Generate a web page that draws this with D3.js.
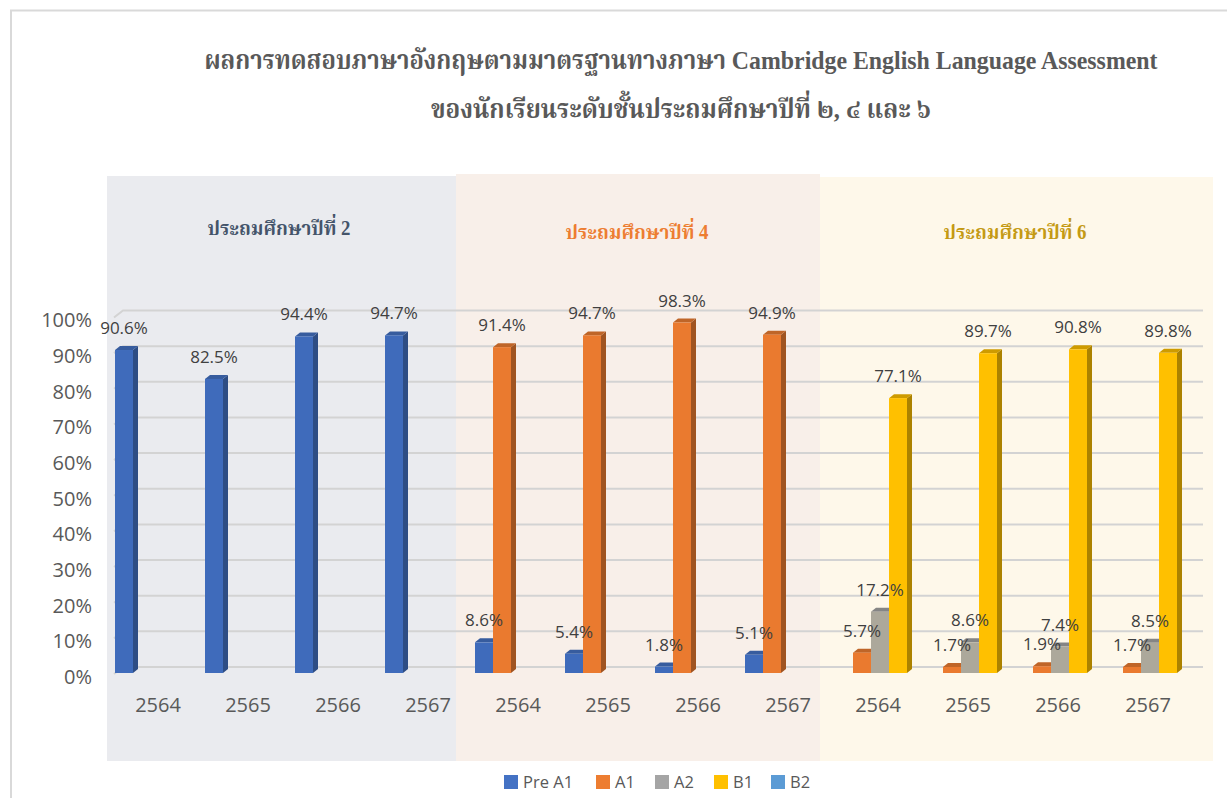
<!DOCTYPE html>
<html>
<head>
<meta charset="utf-8">
<script src="https://cdn.jsdelivr.net/npm/d3@7"></script>
<style>
  body { margin: 0; background: #fff; }
  text { font-family: "Open Sans", "Noto Sans", sans-serif; }
  text.thai { font-family: "Liberation Serif", "TH Sarabun New", "Angsana New", "Noto Serif Thai", serif; font-weight: bold; }
</style>
</head>
<body>
<svg width="1227" height="798"></svg>
<script>
// data
var grades = ["ประถมศึกษาปีที่ 2", "ประถมศึกษาปีที่ 4", "ประถมศึกษาปีที่ 6"];
var years = ["2564", "2565", "2566", "2567"];
var seriesNames = ["Pre A1", "A1", "A2", "B1", "B2"];
var preA1 = [90.6, 82.5, 94.4, 94.7, 8.6, 5.4, 1.8, 5.1, null, null, null, null];
var a1    = [null, null, null, null, 91.4, 94.7, 98.3, 94.9, 5.7, 1.7, 1.9, 1.7];
var a2    = [null, null, null, null, null, null, null, null, 17.2, 8.6, 7.4, 8.5];
var b1    = [null, null, null, null, null, null, null, null, 77.1, 89.7, 90.8, 89.8];
var b2    = [null, null, null, null, null, null, null, null, null, null, null, null];
var yTicks = [0, 10, 20, 30, 40, 50, 60, 70, 80, 90, 100];

var colors = ["#4472c4", "#ed7d31", "#a5a5a5", "#ffc000", "#5b9bd5"];
var fronts = ["#3f6bbb", "#ea7a2f", "#aca89b", "#ffc000", "#5b9bd5"];
var gradeColors = ["#44546a", "#ed7d31", "#c49a14"];
var panelColors = ["#eaebef", "#f8efe9", "#fef8ea"];
var allSeries = [preA1, a1, a2, b1, b2];

var svg = d3.select("svg");

// card border
svg.append("path")
  .attr("d", "M11,798 L11,10.5 L1227,10.5")
  .attr("fill", "none").attr("stroke", "#d9d9d9").attr("stroke-width", 2);

// title
var title = svg.append("g").attr("fill", "#595959").attr("text-anchor", "middle");
title.append("text").attr("class", "thai").attr("x", 681).attr("y", 69).attr("font-size", 26)
  .attr("textLength", 953).attr("lengthAdjust", "spacingAndGlyphs")
  .text("ผลการทดสอบภาษาอังกฤษตามมาตรฐานทางภาษา Cambridge English Language Assessment");
title.append("text").attr("class", "thai").attr("x", 681).attr("y", 118).attr("font-size", 26)
  .attr("textLength", 500).attr("lengthAdjust", "spacingAndGlyphs")
  .text("ของนักเรียนระดับชั้นประถมศึกษาปีที่ ๒, ๔ และ ๖");

var keys = [];
grades.forEach(function(g, gi) { years.forEach(function(yr) { keys.push(gi + "-" + yr); }); });

var x = d3.scaleBand().domain(keys).range([113, 1193]).padding(0);
var xs = d3.scaleBand().domain(seriesNames).range([2, 92]).padding(0);
var y = d3.scaleLinear().domain([0, 100]).range([673, 316.5]);

// panels
var panels = [[107, 456, 176], [456, 820, 174], [820, 1213, 177]];
panels.forEach(function(p, i) {
  svg.append("rect").attr("x", p[0]).attr("y", p[2]).attr("width", p[1] - p[0])
    .attr("height", 761 - p[2]).attr("fill", panelColors[i]);
  svg.append("text").attr("class", "thai")
    .attr("x", [279, 637, 1015][i]).attr("y", [235, 239, 239][i])
    .attr("text-anchor", "middle").attr("font-size", 20)
    .attr("textLength", 143).attr("lengthAdjust", "spacingAndGlyphs")
    .attr("fill", gradeColors[i]).text(grades[i]);
});

// gridlines on the back wall
var grid = svg.append("g").attr("stroke", "#d3d3d3").attr("stroke-width", 2).attr("fill", "none");
yTicks.forEach(function(t) {
  var yy = y(t) - 6;
  grid.append("path").attr("d", "M114," + (yy + 7) + " L123," + yy + " L1203," + yy);
});

// y axis
var yAxis = d3.axisLeft(y).tickValues(yTicks).tickSize(0).tickPadding(0)
  .tickFormat(function(d) { return d + "%"; });
svg.append("g").attr("transform", "translate(92,4)").call(yAxis)
  .call(function(g) {
    g.select(".domain").remove();
    g.selectAll("text").attr("font-size", 20).attr("fill", "#595959")
      .style("font-family", "'Open Sans', sans-serif");
  });

// x axis
var xAxis = d3.axisBottom(x).tickSize(0).tickPadding(0)
  .tickFormat(function(k) { return k.split("-")[1]; });
svg.append("g").attr("transform", "translate(0,698)").call(xAxis)
  .call(function(g) {
    g.select(".domain").remove();
    g.selectAll("text").attr("font-size", 20).attr("fill", "#595959")
      .style("font-family", "'Open Sans', sans-serif");
  });

// 3D-ish bars
var dx = 5, dy = 4;
var bars = svg.append("g");
allSeries.forEach(function(vals, si) {
  var c = d3.color(colors[si]);
  keys.forEach(function(k, i) {
    var v = vals[i];
    if (v == null) return;
    var x0 = x(k) + xs(seriesNames[si]), w = xs.bandwidth();
    var yt = y(v), yb = y(0);
    var g = bars.append("g");
    g.append("path")
      .attr("d", "M" + (x0 + w) + "," + yb + " L" + (x0 + w + dx) + "," + (yb - dy) +
        " L" + (x0 + w + dx) + "," + (yt - dy) + " L" + (x0 + w) + "," + yt + "Z")
      .attr("fill", c.darker(1.1));
    g.append("path")
      .attr("d", "M" + x0 + "," + yt + " L" + (x0 + dx) + "," + (yt - dy) +
        " L" + (x0 + w + dx) + "," + (yt - dy) + " L" + (x0 + w) + "," + yt + "Z")
      .attr("fill", c.darker(0.6));
    g.append("rect").attr("x", x0).attr("y", yt).attr("width", w).attr("height", yb - yt)
      .attr("fill", fronts[si]);
  });
});

// data labels
var labels = svg.append("g").attr("text-anchor", "middle").attr("fill", "#404040").attr("font-size", 17);
allSeries.forEach(function(vals, si) {
  keys.forEach(function(k, i) {
    var v = vals[i];
    if (v == null) return;
    labels.append("text")
      .attr("x", x(k) + xs(seriesNames[si]) + xs.bandwidth() / 2)
      .attr("y", y(v) - 16)
      .text(v.toFixed(1) + "%");
  });
});

// legend
var legX = [504, 596, 655, 714, 771];
var leg = svg.append("g");
seriesNames.forEach(function(s, i) {
  leg.append("rect").attr("x", legX[i]).attr("y", 775).attr("width", 14).attr("height", 14).attr("fill", colors[i]);
  leg.append("text").attr("x", legX[i] + 19).attr("y", 788).attr("font-size", 16.5)
    .attr("fill", "#595959").text(s);
});
</script>
</body>
</html>
